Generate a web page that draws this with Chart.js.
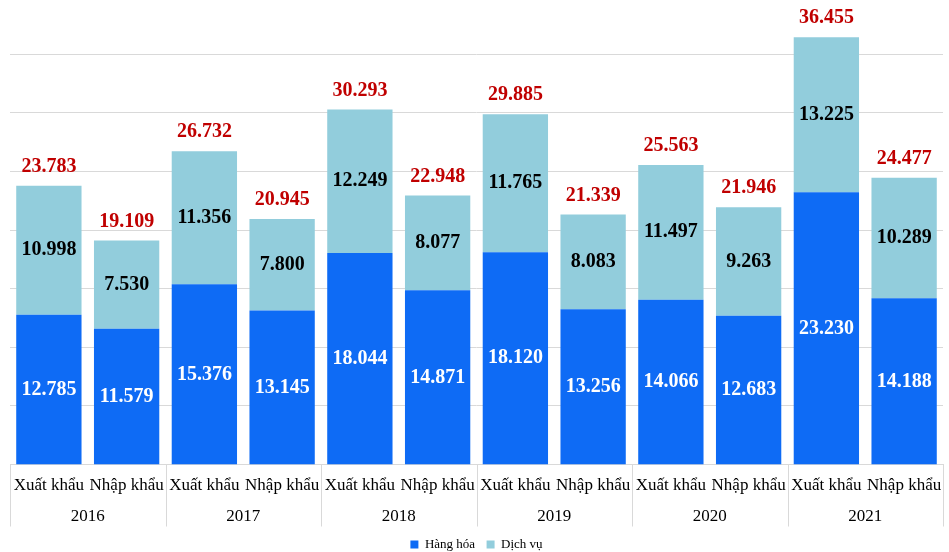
<!DOCTYPE html>
<html>
<head>
<meta charset="utf-8">
<script src="https://cdn.jsdelivr.net/npm/chart.js@4/dist/chart.umd.min.js"></script>
<style>
  html, body { margin: 0; padding: 0; background: #fff; }
  #wrap { width: 949px; height: 552px; position: relative; }
</style>
</head>
<body>
<div id="wrap"><canvas id="c"></canvas></div>
<script>
const subLabels = ['Xuất khẩu','Nhập khẩu','Xuất khẩu','Nhập khẩu','Xuất khẩu','Nhập khẩu','Xuất khẩu','Nhập khẩu','Xuất khẩu','Nhập khẩu','Xuất khẩu','Nhập khẩu'];
const years = ['2016','2017','2018','2019','2020','2021'];
const hangHoa = [12785, 11579, 15376, 13145, 18044, 14871, 18120, 13256, 14066, 12683, 23230, 14188];
const dichVu  = [10998, 7530, 11356, 7800, 12249, 8077, 11765, 8083, 11497, 9263, 13225, 10289];
const totals  = [23783, 19109, 26732, 20945, 30293, 22948, 29885, 21339, 25563, 21946, 36455, 24477];
const yGridValues = [5000, 10000, 15000, 20000, 25000, 30000, 35000];
const seriesNames = ['Hàng hóa', 'Dịch vụ'];

const SERIF = '"Liberation Serif", "Times New Roman", serif';
const GRID = '#d9d9d9';
const fmt = v => String(v).replace(/\B(?=(\d{3})+(?!\d))/g, '.');

const labelPlugin = {
  id: 'barLabels',
  afterDatasetsDraw(chart) {
    const ctx = chart.ctx;
    ctx.save();
    ctx.font = 'bold 20px ' + SERIF;
    ctx.textAlign = 'center';
    ctx.textBaseline = 'middle';
    const m0 = chart.getDatasetMeta(0), m1 = chart.getDatasetMeta(1);
    m0.data.forEach((el, i) => {
      ctx.fillStyle = '#ffffff';
      ctx.fillText(fmt(hangHoa[i]), el.x, (el.y + el.base) / 2);
    });
    m1.data.forEach((el, i) => {
      ctx.fillStyle = '#000000';
      ctx.fillText(fmt(dichVu[i]), el.x, (el.y + el.base) / 2);
      ctx.fillStyle = '#C00000';
      ctx.fillText(fmt(totals[i]), el.x, el.y - 19);
    });
    ctx.restore();
  }
};

// vertical separators between year groups, spanning both rows of the category axis
const separatorPlugin = {
  id: 'yearSeparators',
  afterDraw(chart) {
    const x = chart.scales.x, x2 = chart.scales.x2;
    const ctx = chart.ctx;
    const half = (x.getPixelForValue(1) - x.getPixelForValue(0)) / 2;
    const top = chart.chartArea.bottom, bottom = x2.bottom;
    ctx.save();
    ctx.strokeStyle = GRID;
    ctx.lineWidth = 1;
    ctx.beginPath();
    for (let k = 0; k <= years.length; k++) {
      const px = k < years.length ? x.getPixelForValue(2 * k) - half : x.getPixelForValue(2 * k - 1) + half;
      const p = Math.round(px) + 0.5;
      ctx.moveTo(p, top);
      ctx.lineTo(p, bottom);
    }
    ctx.stroke();
    ctx.restore();
  }
};

new Chart(document.getElementById('c'), {
  type: 'bar',
  data: {
    labels: subLabels,
    datasets: [
      { label: seriesNames[0], data: hangHoa, backgroundColor: '#0E6BF5', barPercentage: 0.84, categoryPercentage: 1 },
      { label: seriesNames[1], data: dichVu, backgroundColor: '#92CDDC', barPercentage: 0.84, categoryPercentage: 1 }
    ]
  },
  options: {
    responsive: true,
    maintainAspectRatio: false,
    animation: false,
    layout: { padding: { top: 25, left: 10, right: 6, bottom: -9 } },
    plugins: {
      tooltip: { enabled: false },
      legend: {
        position: 'bottom',
        labels: {
          boxWidth: 8, boxHeight: 8, padding: 11.5, color: '#000',
          font: { size: 13, family: SERIF }
        }
      }
    },
    scales: {
      x: {
        stacked: true,
        offset: true,
        border: { display: true, color: GRID },
        grid: { offset: true, drawOnChartArea: false, drawTicks: false, color: 'rgba(0,0,0,0)' },
        ticks: {
          color: '#000', padding: 0, autoSkip: false, maxRotation: 0, minRotation: 0,
          font: { size: 17, family: SERIF, lineHeight: 42 / 17 }
        }
      },
      x2: {
        type: 'category',
        labels: years,
        position: 'bottom',
        offset: true,
        border: { display: false },
        grid: { offset: true, drawOnChartArea: false, drawTicks: false, color: 'rgba(0,0,0,0)' },
        ticks: {
          color: '#000', padding: 0, autoSkip: false, maxRotation: 0, minRotation: 0,
          font: { size: 17, family: SERIF, lineHeight: 20 / 17 }
        }
      },
      y: {
        stacked: true,
        min: 0,
        max: 37500,
        border: { display: false },
        afterBuildTicks: scale => {
          scale.ticks = yGridValues.map(v => ({ value: v }));
        },
        grid: { drawTicks: false, color: GRID, lineWidth: 1 },
        ticks: { display: false }
      }
    }
  },
  plugins: [labelPlugin, separatorPlugin]
});
</script>
</body>
</html>
